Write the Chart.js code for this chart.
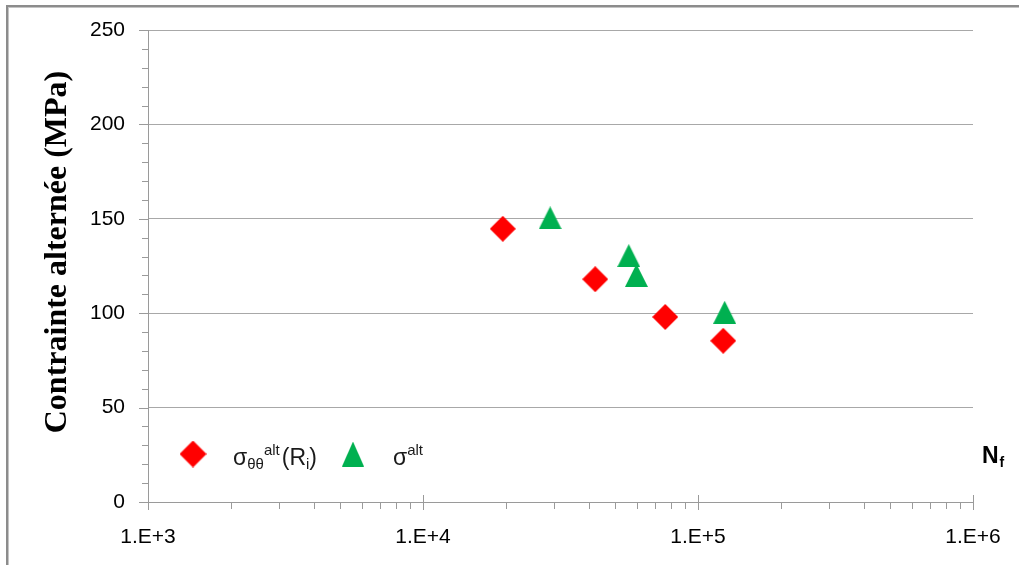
<!DOCTYPE html>
<html>
<head>
<meta charset="utf-8">
<script src="https://cdn.jsdelivr.net/npm/chart.js@4"></script>
<style>
html, body { margin: 0; padding: 0; background: #fff; }
</style>
</head>
<body>
<canvas id="c" width="1019" height="565"></canvas>
<script>
// data
const cyclesThetaTheta = [19500, 42300, 76000, 123500];
const stressThetaTheta = [144.7, 118, 98, 85.4];
const cyclesAlt = [29000, 56000, 59700, 125000];
const stressAlt = [150.5, 130.5, 120, 100.5];

const xDecades = [1e3, 1e4, 1e5, 1e6];
const xTickLabels = ['1.E+3', '1.E+4', '1.E+5', '1.E+6'];
const yTicks = [0, 50, 100, 150, 200, 250];

// wanted plot area in the picture
const plotLeft = 148, plotRight = 973, plotTop = 30, plotBottom = 502;

const axisColor = '#9a9a9a';
const gridColor = '#a8a8a8';
const sans = '"Liberation Sans", Arial, sans-serif';

function makeDiamond(size, color) {
    const cv = document.createElement('canvas');
    cv.width = size; cv.height = size;
    const g = cv.getContext('2d');
    g.fillStyle = color;
    g.beginPath();
    g.moveTo(size / 2, 0);
    g.lineTo(size, size / 2);
    g.lineTo(size / 2, size);
    g.lineTo(0, size / 2);
    g.closePath();
    g.fill();
    return cv;
}

function makeTriangle(w, h, color) {
    const cv = document.createElement('canvas');
    cv.width = w; cv.height = h;
    const g = cv.getContext('2d');
    g.fillStyle = color;
    g.beginPath();
    g.moveTo(w / 2, 0);
    g.lineTo(w, h);
    g.lineTo(0, h);
    g.closePath();
    g.fill();
    return cv;
}

const diamond = makeDiamond(26, '#ff0000');
const triangle = makeTriangle(23, 23, '#00b050');
const legendDiamond = makeDiamond(27, '#ff0000');
const legendTriangle = makeTriangle(22, 25, '#00b050');

const toPoints = (xs, ys) => xs.map((x, i) => ({x: x, y: ys[i]}));

// frame, tick marks, axis title, legend and N_f label
const decorations = {
    id: 'decorations',
    beforeDraw(chart) {
        const ctx = chart.ctx;
        ctx.save();
        ctx.fillStyle = '#fff';
        ctx.fillRect(0, 0, chart.width, chart.height);
        ctx.fillStyle = '#8c8c8c';
        ctx.fillRect(6, 5, 2, chart.height);
        ctx.fillRect(6, 5, chart.width, 2);
        ctx.fillStyle = '#c4c4c4';
        ctx.fillRect(8, 7, 1, chart.height);
        ctx.fillRect(8, 7, chart.width, 1);
        ctx.restore();
    },
    beforeDatasetsDraw(chart) {
        const ctx = chart.ctx;
        const xs = chart.scales.x, ys = chart.scales.y;
        const a = chart.chartArea;
        ctx.save();
        ctx.strokeStyle = axisColor;
        ctx.lineWidth = 1;
        ctx.beginPath();
        // y ticks: major every 50, minor every 10
        for (let v = 0; v <= 250; v += 10) {
            const py = Math.round(ys.getPixelForValue(v)) + 0.5;
            const len = v % 50 === 0 ? 9 : 6;
            ctx.moveTo(a.left - len, py);
            ctx.lineTo(a.left, py);
        }
        // x ticks: minor 2..9 below the axis, decades cross the axis
        xDecades.forEach((d, i) => {
            const px = Math.round(xs.getPixelForValue(d)) + 0.5;
            ctx.moveTo(px, a.bottom + 8);
            ctx.lineTo(px, i === 0 ? a.bottom : a.bottom - 7);
            if (i < xDecades.length - 1) {
                for (let k = 2; k <= 9; k++) {
                    const mx = Math.round(xs.getPixelForValue(d * k)) + 0.5;
                    ctx.moveTo(mx, a.bottom);
                    ctx.lineTo(mx, a.bottom + 7);
                }
            }
        });
        ctx.stroke();
        ctx.restore();
    },
    afterDraw(chart) {
        const ctx = chart.ctx;
        const a = chart.chartArea;
        ctx.save();
        ctx.fillStyle = '#000';

        // y axis title
        ctx.save();
        ctx.translate(58, a.top + (a.bottom - a.top) / 2 - 14);
        ctx.rotate(-Math.PI / 2);
        ctx.font = 'bold 32px "Liberation Serif", "Times New Roman", serif';
        ctx.textAlign = 'center';
        ctx.textBaseline = 'middle';
        ctx.fillText('Contrainte alternée (MPa)', 0, 0);
        ctx.restore();

        // N_f
        ctx.textBaseline = 'alphabetic';
        ctx.textAlign = 'left';
        ctx.font = 'bold 23px ' + sans;
        ctx.fillText('N', a.right + 9, a.bottom - 39);
        const nw = ctx.measureText('N').width;
        ctx.font = 'bold 14px ' + sans;
        ctx.fillText('f', a.right + 9 + nw + 1, a.bottom - 35);

        // legend
        const ly = a.bottom - 48;
        ctx.drawImage(legendDiamond, a.left + 45 - 13.5, ly - 13.5);
        ctx.drawImage(legendTriangle, a.left + 205 - 11, ly - 12.5);
        ctx.fillStyle = '#1a1a1a';
        const base = ly + 11;
        const runs = [
            {t: 'σ', f: 23, dy: 0},
            {t: 'θθ', f: 15, dy: 4},
            {t: 'alt', f: 15, dy: -10},
            {t: '(R', f: 23, dy: 0},
            {t: 'i', f: 15, dy: 4},
            {t: ')', f: 23, dy: 0}
        ];
        let x = a.left + 85;
        runs.forEach(r => {
            ctx.font = r.f + 'px ' + sans;
            ctx.fillText(r.t, x, base + r.dy);
            x += ctx.measureText(r.t).width + (r.t === 'alt' ? 2 : 0);
        });
        x = a.left + 245;
        [{t: 'σ', f: 23, dy: 0}, {t: 'alt', f: 15, dy: -10}].forEach(r => {
            ctx.font = r.f + 'px ' + sans;
            ctx.fillText(r.t, x, base + r.dy);
            x += ctx.measureText(r.t).width;
        });
        ctx.restore();
    }
};

new Chart(document.getElementById('c'), {
    type: 'scatter',
    data: {
        datasets: [{
            label: 'σθθalt(Ri)',
            data: toPoints(cyclesThetaTheta, stressThetaTheta),
            pointStyle: diamond,
            backgroundColor: '#ff0000'
        }, {
            label: 'σalt',
            data: toPoints(cyclesAlt, stressAlt),
            pointStyle: triangle,
            backgroundColor: '#00b050'
        }]
    },
    options: {
        responsive: false,
        animation: false,
        layout: { padding: { top: plotTop, right: 1019 - plotRight, left: 0, bottom: 0 } },
        plugins: { legend: { display: false }, tooltip: { enabled: false } },
        scales: {
            x: {
                type: 'logarithmic',
                min: 1e3,
                max: 1e6,
                // invisible tick marks only push the labels down; real ticks come from the plugin
                grid: { drawOnChartArea: false, drawTicks: true, tickLength: 23, tickColor: 'rgba(0,0,0,0)' },
                border: { display: true, color: axisColor, width: 1 },
                ticks: {
                    autoSkip: false,
                    maxRotation: 0,
                    padding: 0,
                    color: '#000',
                    font: { family: sans, size: 21 },
                    callback: function(value) {
                        const i = xDecades.indexOf(value);
                        return i >= 0 ? xTickLabels[i] : '';
                    }
                },
                afterFit: function(scale) { scale.height = 565 - plotBottom; }
            },
            y: {
                min: 0,
                max: 250,
                afterBuildTicks: function(scale) {
                    scale.ticks = yTicks.map(v => ({value: v}));
                },
                grid: { color: gridColor, drawTicks: true, tickLength: 23, tickColor: 'rgba(0,0,0,0)' },
                border: { display: true, color: axisColor, width: 1 },
                ticks: {
                    padding: 0,
                    color: '#000',
                    font: { family: sans, size: 21 }
                },
                afterFit: function(scale) { scale.width = plotLeft; }
            }
        }
    },
    plugins: [decorations]
});
</script>
</body>
</html>
